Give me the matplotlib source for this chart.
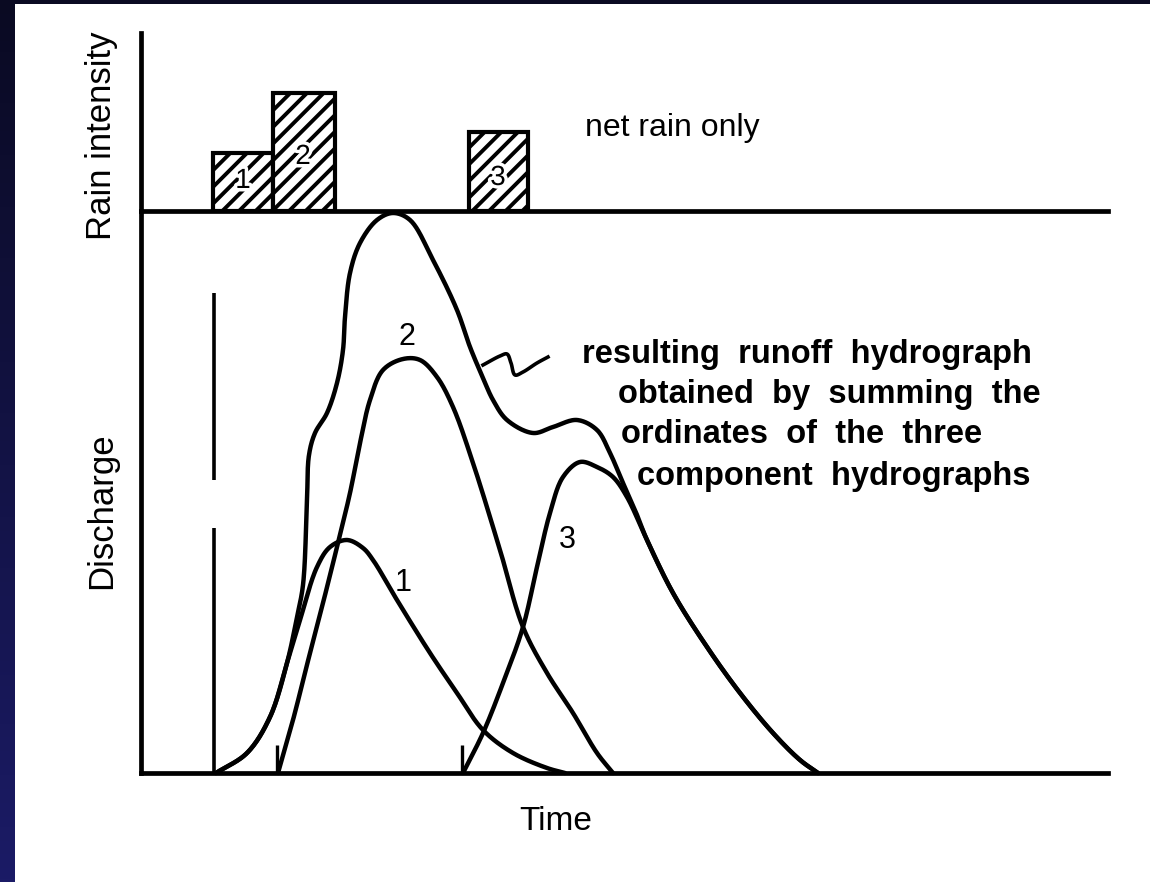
import matplotlib
matplotlib.use("Agg")
import matplotlib.pyplot as plt
import matplotlib.patheffects as pe
from matplotlib.patches import Rectangle
import numpy as np

plt.rcParams['font.family'] = ['Liberation Sans', 'DejaVu Sans']
plt.rcParams['hatch.linewidth'] = 2.8

# rain bars (time units, rain intensity units)
bar_left = [7.2, 13.2, 32.8]
bar_width = [6.0, 6.2, 5.9]
bar_height = [5.8, 11.8, 7.9]
bar_labels = ["1", "2", "3"]
bar_label_pos = [(10.2, 3.0), (16.2, 5.4), (35.7, 3.3)]

# component hydrographs (time, discharge)
h1_t = [7.5, 10.6, 12.9, 14.6, 15.9, 17.6, 18.9, 20.6, 22.2, 23.2, 25.6, 28.9, 31.6, 34.2, 37.2, 40.6, 42.4]
h1_q = [0.0, 2.0, 5.6, 11.0, 15.3, 20.6, 22.6, 23.3, 22.5, 21.3, 17.3, 12.0, 8.0, 4.3, 2.0, 0.5, 0.0]

h2_t = [13.7, 15.2, 16.9, 18.2, 19.6, 20.9, 21.9, 22.9, 24.2, 26.2, 27.9, 29.6, 31.2, 33.2, 35.9, 38.2, 40.6, 43.2, 45.6, 47.2]
h2_q = [0.0, 5.3, 12.0, 17.0, 22.6, 28.0, 33.0, 37.3, 40.3, 41.4, 41.3, 39.6, 36.6, 31.0, 22.3, 14.6, 10.0, 6.0, 2.0, 0.0]

h3_t = [32.2, 34.2, 36.2, 38.2, 39.6, 40.9, 42.2, 43.9, 45.6, 47.2, 48.6, 50.6, 53.2, 56.6, 59.9, 63.2, 65.9, 67.7]
h3_q = [0.0, 4.0, 9.0, 14.6, 20.6, 26.0, 29.6, 31.1, 30.6, 29.6, 27.6, 23.3, 18.0, 12.6, 8.0, 4.0, 1.3, 0.0]

# resulting runoff hydrograph
hr_t = [7.5, 10.6, 12.9, 14.6, 15.6, 16.2, 16.6, 16.8, 17.4, 18.6, 19.6, 20.2, 20.4, 20.9, 21.9, 23.6, 25.2,
        26.9, 29.2, 31.6, 32.9, 34.2, 35.2, 36.6, 39.2, 41.2, 43.6, 45.6, 46.9, 48.2, 49.4, 50.6, 53.2, 56.6,
        59.9, 63.2, 65.9, 67.7]
hr_q = [0.0, 2.0, 5.6, 11.0, 15.6, 18.8, 27.3, 31.8, 34.0, 36.0, 39.0, 42.3, 45.6, 50.0, 53.0, 55.3, 56.0,
        55.3, 51.3, 46.3, 42.6, 39.5, 37.3, 35.3, 34.0, 34.6, 35.3, 34.3, 32.0, 29.0, 26.3, 23.3, 18.0, 12.6,
        8.0, 4.0, 1.3, 0.0]

curve_labels = ["1", "2", "3"]
curve_label_pos = [(26.2, 19.0), (26.6, 43.6), (42.6, 23.3)]

# rain start markers
marker_t = [7.3, 13.6, 32.1]

# leader from the label to the resulting hydrograph
lead_t = [34.2, 35.9, 36.6, 37.0, 37.4, 38.2, 39.6, 40.7]
lead_q = [40.8, 41.7, 41.9, 41.0, 39.8, 40.1, 41.0, 41.6]

note_lines = ["resulting  runoff  hydrograph", "obtained  by  summing  the",
              "ordinates  of  the  three", "component  hydrographs"]
note_pos = [(44.1, 41.0), (47.7, 37.0), (48.0, 33.0), (49.6, 28.8)]

T_MAX, Q_MAX, R_MAX = 96.7, 56.2, 17.8
LW = 3.2


def smooth(xs, ys, n=24, alpha=0.5):
    # centripetal catmull-rom, only to draw the read points as a smooth stroke
    p = np.column_stack([xs, ys]).astype(float)
    p = np.vstack([2 * p[0] - p[1], p, 2 * p[-1] - p[-2]])
    out = []
    for i in range(1, len(p) - 2):
        p0, p1, p2, p3 = p[i - 1], p[i], p[i + 1], p[i + 2]
        t0 = 0.0
        t1 = t0 + np.linalg.norm(p1 - p0) ** alpha
        t2 = t1 + np.linalg.norm(p2 - p1) ** alpha
        t3 = t2 + np.linalg.norm(p3 - p2) ** alpha
        t = np.linspace(t1, t2, n, endpoint=False)[:, None]
        a1 = (t1 - t) / (t1 - t0) * p0 + (t - t0) / (t1 - t0) * p1
        a2 = (t2 - t) / (t2 - t1) * p1 + (t - t1) / (t2 - t1) * p2
        a3 = (t3 - t) / (t3 - t2) * p2 + (t - t2) / (t3 - t2) * p3
        b1 = (t2 - t) / (t2 - t0) * a1 + (t - t0) / (t2 - t0) * a2
        b2 = (t3 - t) / (t3 - t1) * a2 + (t - t1) / (t3 - t1) * a3
        out.append((t2 - t) / (t2 - t1) * b1 + (t - t1) / (t2 - t1) * b2)
    out.append(p[-2][None, :])
    o = np.vstack(out)
    return o[:, 0], o[:, 1]


fig = plt.figure(figsize=(11.5, 8.82), dpi=100)

# page frame: navy border on the left and top
bg = fig.add_axes([0, 0, 1, 1], zorder=-10)
grad = np.linspace(0, 1, 256)[:, None]
cmap = matplotlib.colors.LinearSegmentedColormap.from_list("nv", ["#0a0a22", "#1b1b66"])
bg.imshow(grad, aspect="auto", cmap=cmap, extent=[0, 1, 0, 1], origin="upper")
bg.add_patch(Rectangle((15 / 1150, 0), 1, 1 - 4 / 882, facecolor="white", edgecolor="none"))
bg.set_xlim(0, 1)
bg.set_ylim(0, 1)
bg.axis("off")

left = 141 / 1150
width = (1108 - 141) / 1150
ax = fig.add_axes([left, (882 - 773) / 882, width, (773 - 211) / 882])
axr = fig.add_axes([left, (882 - 211) / 882, width, (211 - 33) / 882])

for a, ymax in ((ax, Q_MAX), (axr, R_MAX)):
    a.set_facecolor("none")
    a.set_xlim(0, T_MAX)
    a.set_ylim(0, ymax)
    a.set_xticks([])
    a.set_yticks([])
    a.spines["top"].set_visible(False)
    a.spines["right"].set_visible(False)
    a.spines["left"].set_linewidth(3.4)
    a.spines["bottom"].set_linewidth(3.4)

# rain bars
axr.bar(bar_left, bar_height, width=bar_width, align="edge", facecolor="white",
        edgecolor="black", linewidth=3, hatch="//")
for lab, (x, y) in zip(bar_labels, bar_label_pos):
    axr.text(x, y, lab, ha="center", va="center", fontsize=20, color="black",
             path_effects=[pe.withStroke(linewidth=5, foreground="white")])
axr.text(44.4, 7.5, "net rain only", fontsize=23, ha="left", va="baseline")
axr.text(-3.9, 0.42, "Rain intensity", rotation=90, fontsize=25, ha="center", va="center",
         transform=matplotlib.transforms.blended_transform_factory(axr.transData, axr.transAxes))

# hydrographs
for t, q in ((h1_t, h1_q), (h2_t, h2_q), (h3_t, h3_q), (hr_t, hr_q)):
    xs, ys = smooth(t, q)
    ax.plot(xs, ys, color="black", lw=LW, solid_capstyle="round", clip_on=False)

for lab, (x, y) in zip(curve_labels, curve_label_pos):
    ax.text(x, y, lab, ha="center", va="center", fontsize=22)

# rain start markers
ax.vlines(marker_t[0], 0, 24.5, color="black", lw=2.6)
ax.vlines(marker_t[0], 29.3, 48.0, color="black", lw=2.6)
ax.vlines(marker_t[1:], 0, 2.8, color="black", lw=2.4)

xs, ys = smooth(lead_t, lead_q, 10)
ax.plot(xs, ys, color="black", lw=2.6)

for line, (x, y) in zip(note_lines, note_pos):
    ax.text(x, y, line, fontsize=23.5, fontweight="bold", ha="left", va="baseline")

ax.text(-3.9, 0.466, "Discharge", rotation=90, fontsize=25, ha="center", va="center",
        transform=matplotlib.transforms.blended_transform_factory(ax.transData, ax.transAxes))
ax.text(41.5, -4.9, "Time", fontsize=24, ha="center", va="center")

fig.savefig("out.png", dpi=100)
